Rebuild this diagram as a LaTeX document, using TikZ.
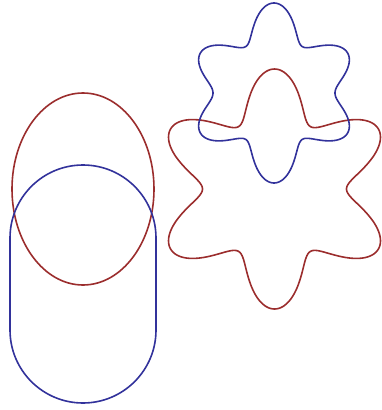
\documentclass[tikz,border=0pt]{standalone}
\usepackage{tikz}
\definecolor{curvered}{RGB}{155,45,45}
\definecolor{curveblue}{RGB}{50,50,155}

\begin{document}
\begin{tikzpicture}[x=1pt,y=-1pt,
  redline/.style={draw=curvered,line width=1.6pt},
  blueline/.style={draw=curveblue,line width=1.6pt}]
\useasboundingbox (0,0) rectangle (382,410);
\coordinate (ovalc) at (83,189);
\coordinate (starr) at (274.5,189);
\coordinate (starb) at (274,93);
% left pair
\draw[redline] (ovalc) ellipse [x radius=71,y radius=96];
\draw[blueline] (156,238) arc[start angle=0,end angle=-180,radius=73]
  -- (10,330) arc[start angle=180,end angle=0,radius=73] -- cycle;
% right pair
\draw[redline,shift={(starr)}] plot[domain=0:360,samples=361,variable=\t]
  ({(96-24*cos(6*\t))*cos(\t)},{(96-24*cos(6*\t))*sin(\t)}) -- cycle;
\draw[blueline,shift={(starb)}] plot[domain=0:360,samples=361,variable=\t]
  ({(71.2-14.5*cos(6*\t)+4.3*cos(4*\t))*cos(\t)},{(71.2-14.5*cos(6*\t)+4.3*cos(4*\t))*sin(\t)}) -- cycle;
\end{tikzpicture}
\end{document}
